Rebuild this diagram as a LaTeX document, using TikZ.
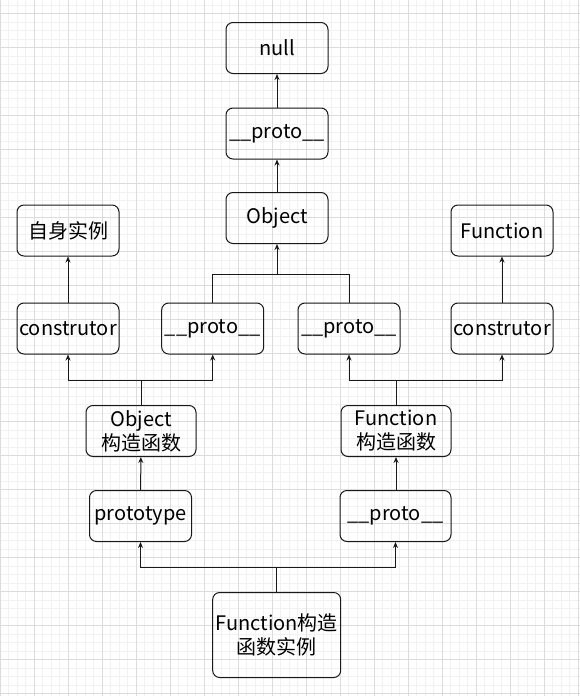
\documentclass[tikz,border=0pt]{standalone}
\usepackage{fontspec}
\setmainfont{Noto Sans CJK SC}
\usetikzlibrary{arrows.meta}
\definecolor{GridMajor}{RGB}{220,220,220}
\definecolor{GridMinor}{RGB}{241,241,241}
\definecolor{BoxLine}{RGB}{25,25,25}

\begin{document}
\begin{tikzpicture}[x=1pt,y=-1pt,>={Stealth[length=6pt,width=5pt]},
  box/.style={draw=BoxLine,line width=1pt,rounded corners=7pt,minimum width=102pt,
    minimum height=51pt,inner sep=0pt,align=center,font=\fontsize{20}{24}\selectfont},
  link/.style={draw=BoxLine,line width=1pt}]
  \useasboundingbox (0,0) rectangle (580,696);
  % background grid
  \foreach \g in {0,8.5,...,580} \draw[GridMinor,line width=0.6pt] (\g,0) -- (\g,696);
  \foreach \g in {4.8,13.3,...,696} \draw[GridMinor,line width=0.6pt] (0,\g) -- (580,\g);
  \foreach \g in {0,34,...,580} \draw[GridMajor,line width=0.7pt] (\g,0) -- (\g,696);
  \foreach \g in {13.3,47.3,...,696} \draw[GridMajor,line width=0.7pt] (0,\g) -- (580,\g);
  % boxes
  \node[box] (null) at (277,48) {null};
  \node[box] (topproto) at (277,133.5) {\_\_proto\_\_};
  \node[box] (object) at (277,218) {Object};
  \node[box] (selfinst) at (68,230.5) {自身实例};
  \node[box] (function) at (502,230.5) {Function};
  \node[box] (objcons) at (68,328.5) {construtor};
  \node[box] (objproto) at (212.7,328.5) {\_\_proto\_\_};
  \node[box] (funproto) at (349,328.5) {\_\_proto\_\_};
  \node[box] (funcons) at (502,328.5) {construtor};
  \node[box,minimum width=110pt] (objctor) at (141,431) {Object\\构造函数};
  \node[box,minimum width=110pt] (functor) at (396,431) {Function\\构造函数};
  \node[box] (prototype) at (140.5,516) {prototype};
  \node[box,minimum width=111pt] (lowproto) at (395.5,516) {\_\_proto\_\_};
  \node[box,minimum width=128pt,minimum height=85pt] (instance) at (276.7,635) {Function构造\\函数实例};
  % junctions
  \coordinate (objmerge) at (277,274);
  \coordinate (objsplit) at (141,380);
  \coordinate (funsplit) at (396,380);
  \coordinate (instsplit) at (276.7,567);
  % connectors
  \draw[link,->] (topproto) -- (null);
  \draw[link,->] (object) -- (topproto);
  \draw[link] (objproto) |- (objmerge);
  \draw[link] (funproto) |- (objmerge);
  \draw[link,->] (objmerge) -- (object);
  \draw[link,->] (objcons) -- (selfinst);
  \draw[link,->] (funcons) -- (function);
  \draw[link] (objctor) -- (objsplit);
  \draw[link,->] (objsplit) -| (objcons);
  \draw[link,->] (objsplit) -| (objproto);
  \draw[link] (functor) -- (funsplit);
  \draw[link,->] (funsplit) -| (funproto);
  \draw[link,->] (funsplit) -| (funcons);
  \draw[link,->] (prototype) -- (objctor);
  \draw[link,->] (lowproto.north -| functor) -- (functor);
  \draw[link] (instance) -- (instsplit);
  \draw[link,->] (instsplit) -| (prototype);
  \draw[link,->] (instsplit) -| (lowproto);
\end{tikzpicture}
\end{document}
